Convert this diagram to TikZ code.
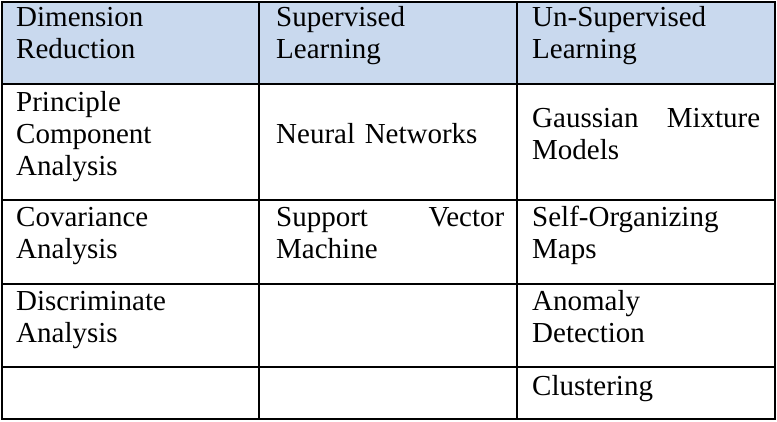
\documentclass[tikz,border=0pt]{standalone}
\usepackage{fontspec}
\setmainfont{Liberation Serif}
\definecolor{headblue}{RGB}{201,217,238}

\begin{document}
\begin{tikzpicture}[x=1pt,y=-1pt,
    cell/.style={anchor=north west,inner sep=0pt,text width=228pt,
        align=left,font=\fontsize{29}{32}\selectfont},
    jcell/.style={cell,align=justify},
    rule/.style={line width=1.5pt}]
    \useasboundingbox[fill=white] (0,0) rectangle (777,421);
    \fill[headblue] (2,2) rectangle (775,84);
    \draw[rule] (2,2) rectangle (775,419);
    \foreach \y in {84,200,284,367} \draw[rule] (2,\y) -- (775,\y);
    \foreach \x in {259,517} \draw[rule] (\x,2) -- (\x,419);

    % header row
    \node[cell] (dimred) at (16,3.6) {\strut Dimension\\Reduction};
    \node[cell] (suplearn) at (276,3.6) {\strut Supervised\\Learning};
    \node[cell] (unsuplearn) at (532,3.6) {\strut Un-Supervised\\Learning};

    \node[cell] (pca) at (16,88.6) {\strut Principle\\Component\\Analysis};
    \node[cell] (neural) at (276,120.6) {\strut Neural Networks};
    \node[jcell] (gmm) at (532,104.6) {\strut Gaussian Mixture\linebreak Models};

    \node[cell] (cova) at (16,203.6) {\strut Covariance\\Analysis};
    \node[jcell] (svm) at (276,203.6) {\strut Support Vector\linebreak Machine};
    \node[cell] (som) at (532,203.6) {\strut Self-Organizing\\Maps};

    \node[cell] (disc) at (16,287.6) {\strut Discriminate\\Analysis};
    \node[cell] (anomaly) at (532,287.6) {\strut Anomaly\\Detection};

    \node[cell] (clust) at (532,372.6) {\strut Clustering};
\end{tikzpicture}
\end{document}
